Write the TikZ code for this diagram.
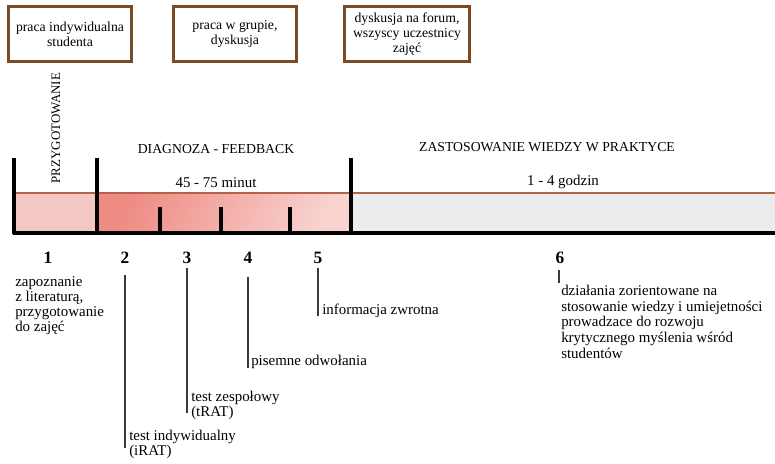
\documentclass[tikz,border=0pt]{standalone}
\usepackage{fontspec}
\setmainfont{Liberation Serif}
\definecolor{boxbrown}{HTML}{7A4A24}
\definecolor{edgered}{HTML}{B4624A}
\definecolor{prepfill}{HTML}{F3C8C4}
\definecolor{diagA}{HTML}{EE8B83}
\definecolor{diagB}{HTML}{F8D3CF}
\definecolor{practfill}{HTML}{ECECEC}
\definecolor{leader}{HTML}{3A3A3A}
\tikzset{
  txt/.style={inner sep=0pt, font=\fontsize{10.3}{11.25}\selectfont},
  lowtxt/.style={inner sep=0pt, font=\fontsize{11.2}{11.25}\selectfont},
  topbox/.style={txt, draw=boxbrown, line width=2.6pt, align=center, minimum height=40.9pt},
  num/.style={inner sep=0pt, font=\fontsize{13}{15}\selectfont\bfseries},
  bar/.style={line width=2.3pt},
  leaderline/.style={draw=leader, line width=0.9pt}
}
\begin{document}
\begin{tikzpicture}[x=0.75pt,y=-0.75pt]
\useasboundingbox (0,0) rectangle (775,464);
% top boxes
\node[topbox, minimum width=91.9pt] (b1) at (70,34) {praca indywidualna\\studenta};
\node[topbox, minimum width=91.9pt] (b2) at (235,34) {praca w grupie,\\dyskusja};
\node[topbox, minimum width=93.4pt] (b3) at (407,34) {dyskusja na forum,\\wszyscy uczestnicy\\zajęć};
% band
\fill[prepfill] (14,193) rectangle (97,233);
\shade[top color=diagA, bottom color=diagB, shading angle=65] (97,193) rectangle (351,233);
\fill[practfill] (351,193) rectangle (775,233);
\draw[edgered, line width=1pt] (14,193) -- (775,193);
\draw[bar] (13,233) -- (775,233);
\draw[bar] (14,158) -- (14,234);
\draw[bar] (97,158) -- (97,234);
\draw[bar] (351,158) -- (351,234);
\draw[bar] (160,207) -- (160,233);
\draw[bar] (221,207) -- (221,233);
\draw[bar] (290,207) -- (290,233);
% headings
\node[txt, rotate=90, font=\fontsize{9.7}{11}\selectfont] (prep) at (56,128) {PRZYGOTOWANIE};
\node[txt] (diag) at (216,149) {DIAGNOZA - FEEDBACK};
\node[lowtxt] (dur1) at (216,183) {45 - 75 minut};
\node[txt] (zast) at (547,147) {ZASTOSOWANIE WIEDZY W PRAKTYCE};
\node[lowtxt] (dur2) at (563,182) {1 - 4 godzin};
% numbers
\node[num] (n1) at (48,258) {1};
\node[num] (n2) at (125,258) {2};
\node[num] (n3) at (187,258) {3};
\node[num] (n4) at (248,258) {4};
\node[num] (n5) at (318,258) {5};
\node[num] (n6) at (560,258) {6};
% descriptions
\node[lowtxt, anchor=north west, align=left] (t1) at (15,276) {zapoznanie\\z literaturą,\\przygotowanie\\do zajęć};
\node[lowtxt, anchor=north west, align=left] (t2) at (129,430) {test indywidualny\\(iRAT)};
\node[lowtxt, anchor=north west, align=left] (t3) at (191,391) {test zespołowy\\(tRAT)};
\node[lowtxt, anchor=west] (t4) at (251,362) {pisemne odwołania};
\node[lowtxt, anchor=west] (t5) at (322,311) {informacja zwrotna};
\node[lowtxt, anchor=north west, align=left, font=\fontsize{11.2}{12}\selectfont] (t6) at (561,285)
  {działania zorientowane na\\stosowanie wiedzy i umiejetności\\[-1.2pt]prowadzace do rozwoju\\krytycznego myślenia wśród\\studentów};
% leaders
\coordinate (l2a) at (125,275); \coordinate (l2b) at (125,448);
\coordinate (l3a) at (187,268); \coordinate (l3b) at (187,413);
\coordinate (l4a) at (248,277); \coordinate (l4b) at (248,368);
\coordinate (l5a) at (318,268); \coordinate (l5b) at (318,316);
\coordinate (l6a) at (559,270); \coordinate (l6b) at (559,283);
\draw[leaderline] (l2a) -- (l2b);
\draw[leaderline] (l3a) -- (l3b);
\draw[leaderline] (l4a) -- (l4b);
\draw[leaderline] (l5a) -- (l5b);
\draw[leaderline] (l6a) -- (l6b);
\end{tikzpicture}
\end{document}
